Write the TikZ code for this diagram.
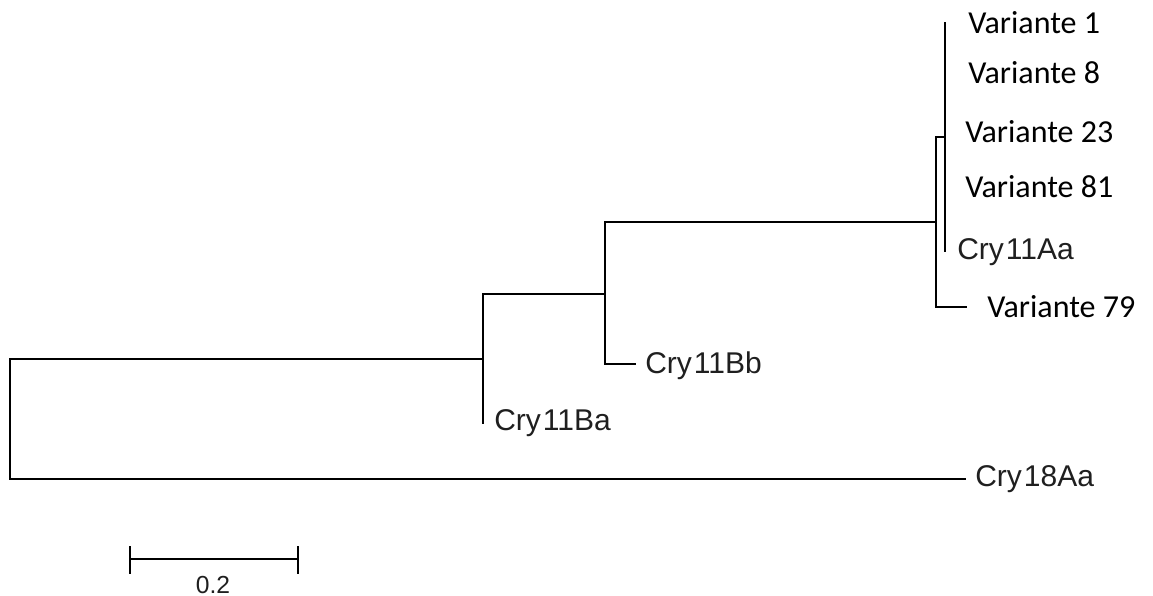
\documentclass[tikz,border=0pt]{standalone}
\usepackage{fontspec}
\newfontfamily\cryfont{Liberation Sans}
\newfontfamily\varfont{Carlito}
\begin{document}
\begin{tikzpicture}[x=0.75pt,y=-0.75pt,
  br/.style={line width=1.5pt, black, line cap=rect},
  cry/.style={font=\cryfont\fontsize{22.5}{24}\selectfont, text=black!88, anchor=base west, inner sep=0pt},
  var/.style={font=\varfont\fontsize{24}{26}\selectfont, text=black, anchor=base west, inner sep=0pt}]
\useasboundingbox (0,0) rectangle (1153,596);
% internal nodes
\coordinate (root) at (10,420);
\coordinate (n1) at (483,359);
\coordinate (n2) at (605,294);
\coordinate (n3) at (936,222);
\coordinate (n4) at (945,137);
% leaf ends
\coordinate (e18) at (965,479);
\coordinate (eBa) at (483,423);
\coordinate (eBb) at (635,364);
\coordinate (e79) at (966,307);
\coordinate (eV1) at (945,23);
\coordinate (eAa) at (945,251);
% branches
\draw[br] (root |- n1) -- (n1);
\draw[br] (root |- n1) -- (root |- e18) -- (e18);
\draw[br] (n1 |- n2) -- (n2);
\draw[br] (n1 |- n2) -- (eBa);
\draw[br] (n2 |- n3) -- (n3);
\draw[br] (n2 |- n3) -- (n2 |- eBb) -- (eBb);
\draw[br] (n3 |- n4) -- (n4);
\draw[br] (n3 |- n4) -- (n3 |- e79) -- (e79);
\draw[br] (eV1) -- (eAa);
% labels
\node[cry] (l18) at (975,486) {Cry\kern1.5pt 18Aa};
\node[cry] (lBa) at (494,430) {Cry\kern1.5pt 11Ba};
\node[cry] (lBb) at (645,373) {Cry\kern1.5pt 11Bb};
\node[cry] (lAa) at (957,259) {Cry\kern1.5pt 11Aa};
\node[var] (v79) at (987,317) {Variante 79};
\node[var] (v1) at (968,33) {Variante 1};
\node[var] (v8) at (968,83) {Variante 8};
\node[var] (v23) at (965,142) {Variante 23};
\node[var] (v81) at (965,197) {Variante 81};
% scale bar
\coordinate (sa) at (130,559);
\coordinate (sb) at (298,559);
\draw[br, line cap=butt] (sa) -- (sb);
\draw[br, line cap=butt] ([yshift=-11]sa) -- ([yshift=10]sa);
\draw[br, line cap=butt] ([yshift=-11]sb) -- ([yshift=10]sb);
\node[font=\cryfont\fontsize{18.5}{20}\selectfont, text=black!88, inner sep=0pt, anchor=base] (sl) at (213,593) {0.2};
\end{tikzpicture}
\end{document}
